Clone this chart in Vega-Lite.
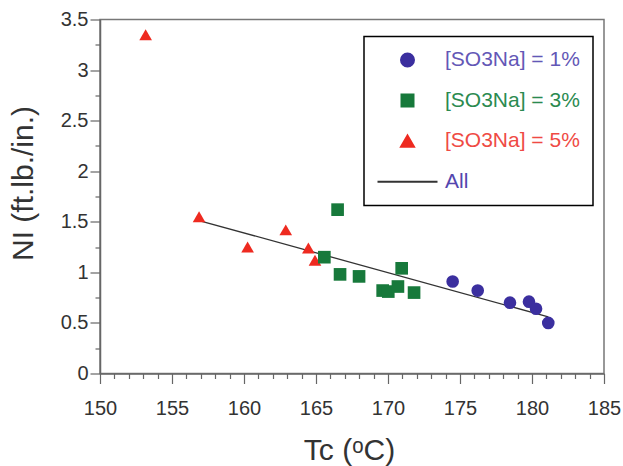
{
  "$schema": "https://vega.github.io/schema/vega-lite/v6.json",
  "width": 504,
  "height": 354,
  "autosize": "none",
  "padding": {"left": 100, "top": 19.5, "right": 19, "bottom": 92.5},
  "background": "white",
  "config": {
    "font": "Liberation Sans",
    "view": {"stroke": "#777777", "strokeWidth": 1.5}
  },
  "datasets": {
    "points": [
      {"Tc": 153.17, "NI": 3.35, "series": "[SO3Na] = 5%"},
      {"Tc": 156.88, "NI": 1.55, "series": "[SO3Na] = 5%"},
      {"Tc": 160.25, "NI": 1.25, "series": "[SO3Na] = 5%"},
      {"Tc": 162.9, "NI": 1.42, "series": "[SO3Na] = 5%"},
      {"Tc": 164.47, "NI": 1.24, "series": "[SO3Na] = 5%"},
      {"Tc": 164.93, "NI": 1.12, "series": "[SO3Na] = 5%"},
      {"Tc": 166.5, "NI": 1.62, "series": "[SO3Na] = 3%"},
      {"Tc": 165.58, "NI": 1.15, "series": "[SO3Na] = 3%"},
      {"Tc": 166.67, "NI": 0.98, "series": "[SO3Na] = 3%"},
      {"Tc": 167.99, "NI": 0.96, "series": "[SO3Na] = 3%"},
      {"Tc": 169.63, "NI": 0.82, "series": "[SO3Na] = 3%"},
      {"Tc": 170.02, "NI": 0.81, "series": "[SO3Na] = 3%"},
      {"Tc": 170.69, "NI": 0.86, "series": "[SO3Na] = 3%"},
      {"Tc": 170.95, "NI": 1.04, "series": "[SO3Na] = 3%"},
      {"Tc": 171.81, "NI": 0.8, "series": "[SO3Na] = 3%"},
      {"Tc": 174.49, "NI": 0.91, "series": "[SO3Na] = 1%"},
      {"Tc": 176.23, "NI": 0.82, "series": "[SO3Na] = 1%"},
      {"Tc": 178.47, "NI": 0.7, "series": "[SO3Na] = 1%"},
      {"Tc": 179.79, "NI": 0.71, "series": "[SO3Na] = 1%"},
      {"Tc": 180.28, "NI": 0.64, "series": "[SO3Na] = 1%"},
      {"Tc": 181.13, "NI": 0.5, "series": "[SO3Na] = 1%"}
    ],
    "fit": [
      {"Tc": 156.94, "NI": 1.51, "series": "All"},
      {"Tc": 181.13, "NI": 0.56, "series": "All"}
    ]
  },
  "encoding": {
    "x": {
      "field": "Tc",
      "type": "quantitative",
      "scale": {"domain": [150, 185], "nice": false, "zero": false},
      "axis": {
        "title": "Tc (ᵒC)",
        "values": [150,151,152,153,154,155,156,157,158,159,160,161,162,163,164,165,166,167,168,169,170,171,172,173,174,175,176,177,178,179,180,181,182,183,184,185],
        "format": "d",
        "labelExpr": "datum.value % 5 === 0 ? datum.label : ''",
        "tickSize": {"condition": {"test": "datum.value % 5 !== 0", "value": 5}, "value": 10},
        "grid": false,
        "domainColor": "#666666",
        "domainWidth": 1.5,
        "tickColor": "#666666",
        "tickWidth": 1.2,
        "labelFontSize": 20,
        "labelColor": "#333333",
        "labelPadding": 15,
        "labelFlush": false,
        "labelOverlap": false,
        "titleFontSize": 30,
        "titleFontWeight": "normal",
        "titleColor": "#333333",
        "titleX": 249,
        "titleY": 86,
        "titleBaseline": "alphabetic"
      }
    },
    "y": {
      "field": "NI",
      "type": "quantitative",
      "scale": {"domain": [0, 3.5], "nice": false, "zero": false},
      "axis": {
        "title": "NI (ft.lb./in.)",
        "values": [0,0.25,0.5,0.75,1,1.25,1.5,1.75,2,2.25,2.5,2.75,3,3.25,3.5],
        "format": ".2~f",
        "labelExpr": "datum.value % 0.5 === 0 ? datum.label : ''",
        "tickSize": {"condition": {"test": "datum.value % 0.5 !== 0", "value": 5}, "value": 10},
        "grid": false,
        "domainColor": "#666666",
        "domainWidth": 1.5,
        "tickColor": "#666666",
        "tickWidth": 1.2,
        "labelFontSize": 20,
        "labelColor": "#333333",
        "labelPadding": 2,
        "labelOverlap": false,
        "titleFontSize": 30,
        "titleFontWeight": "normal",
        "titleColor": "#333333",
        "titleAngle": -90,
        "titleX": -77,
        "titleY": 163.5,
        "titleBaseline": "middle",
        "titleAlign": "center"
      }
    },
    "color": {
      "field": "series",
      "type": "nominal",
      "scale": {
        "domain": ["[SO3Na] = 1%", "[SO3Na] = 3%", "[SO3Na] = 5%", "All"],
        "range": ["#3b2f9f", "#17793b", "#ee2a20", "#333333"]
      },
      "legend": {
        "orient": "none",
        "legendX": 264,
        "legendY": 17,
        "title": null,
        "padding": 13,
        "strokeColor": "#000000",
        "fillColor": "white",
        "labelFont": "Liberation Sans",
        "labelFontSize": 21,
        "labelOffset": 27,
        "symbolOffset": 20,
        "rowPadding": 18.6,
        "symbolOpacity": 1,
        "symbolStrokeColor": "#a0a0a0",
        "symbolStrokeWidth": 2,
        "encode": {
          "legend": {
            "update": {"strokeWidth": {"value": 1.5}}
          },
          "symbols": {
            "update": {
              "size": {"signal": "datum.value === 'All' ? 3600 : (datum.value === '[SO3Na] = 3%' ? 144 : 169)"},
              "fill": {"signal": "datum.value === 'All' ? 'transparent' : scale('color', datum.value)"},
              "stroke": {"signal": "datum.value === 'All' ? '#a0a0a0' : 'transparent'"},
              "strokeWidth": {"value": 2},
              "opacity": {"value": 1}
            }
          },
          "labels": {
            "update": {
              "fill": {"signal": "datum.value === '[SO3Na] = 1%' ? '#6357b6' : datum.value === '[SO3Na] = 3%' ? '#2b8a50' : datum.value === '[SO3Na] = 5%' ? '#ef4a44' : '#5446ae'"}
            }
          }
        }
      }
    }
  },
  "layer": [
    {
      "data": {"name": "fit"},
      "mark": {"type": "line", "strokeWidth": 1.3}
    },
    {
      "data": {"name": "points"},
      "mark": {"type": "point", "filled": true, "opacity": 1, "size": 160},
      "encoding": {
        "shape": {
          "field": "series",
          "type": "nominal",
          "scale": {
            "domain": ["[SO3Na] = 1%", "[SO3Na] = 3%", "[SO3Na] = 5%", "All"],
            "range": ["circle", "square", "triangle-up", "stroke"]
          }
        }
      }
    },
    {
      "data": {"values": [{"label": "r = 0.86"}]},
      "mark": {"type": "text", "align": "left", "baseline": "alphabetic", "fontSize": 23, "fontWeight": "bold", "color": "#111111", "font": "Liberation Sans"},
      "encoding": {
        "x": {"datum": 154.05, "type": "quantitative"},
        "y": {"datum": 0.478, "type": "quantitative"},
        "color": {"value": "#111111"},
        "text": {"field": "label"}
      }
    }
  ]
}
